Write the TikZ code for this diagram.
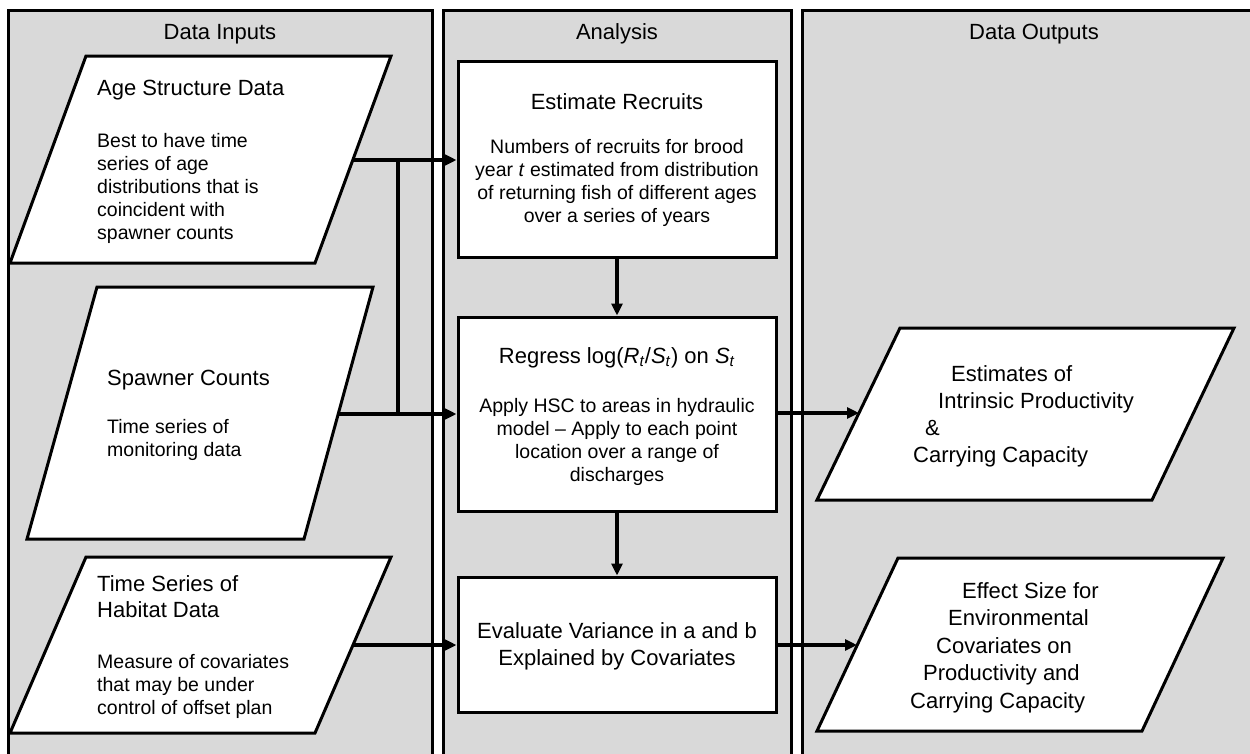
\documentclass[tikz,border=0pt]{standalone}
\usepackage{fontspec}
\setmainfont{Liberation Sans}
\usetikzlibrary{arrows.meta,calc}
\definecolor{panelgray}{HTML}{D9D9D9}
\tikzset{
  panel/.style={fill=panelgray,draw=black,line width=3pt},
  para/.style={fill=white,draw=black,line width=3pt,line join=miter},
  box/.style={fill=white,draw=black,line width=3pt,inner sep=0pt},
  conn/.style={draw=black,line width=3.4pt},
  arr/.style={conn,-{Triangle[length=12pt,width=11pt]}},
  hdr/.style={font=\fontsize{22}{26}\selectfont,inner sep=0pt,anchor=base},
  ttl/.style={font=\fontsize{22}{27}\selectfont,inner sep=0pt},
  bdy/.style={font=\fontsize{19.5}{23}\selectfont,inner sep=0pt}
}
\begin{document}
\begin{tikzpicture}[x=1pt,y=-1pt]
\useasboundingbox (0,0) rectangle (1250,753);
\clip (0,0) rectangle (1250,753);
% panels
\path[panel] (8,10) rectangle (432,770);
\path[panel] (443,10) rectangle (791,770);
\path[panel] (802,10) rectangle (1280,770);
\node[hdr] (h1) at (220,39) {Data Inputs};
\node[hdr] (h2) at (617,39) {Analysis};
\node[hdr] (h3) at (1034,39) {Data Outputs};
% input parallelograms
\path[para] (86,56) -- (391,56) -- (315,263) -- (10,263) -- cycle;
\path[para] (97,287) -- (373,287) -- (304,539) -- (27,539) -- cycle;
\path[para] (86,557) -- (391,557) -- (315,733) -- (10,733) -- cycle;
\node[ttl,anchor=base west] (t1) at (97,95) {Age Structure Data};
\node[bdy,anchor=base west,align=left] (b1) at (97,239) {Best to have time\\series of age\\distributions that is\\coincident with\\spawner counts};
\node[ttl,anchor=base west] (t2) at (107,385) {Spawner Counts};
\node[bdy,anchor=base west,align=left] (b2) at (107,456) {Time series of\\monitoring data};
\node[ttl,anchor=base west,align=left,font=\fontsize{22}{26}\selectfont] (t3) at (97,617) {Time Series of\\Habitat Data};
\node[bdy,anchor=base west,align=left] (b3) at (97,714) {Measure of covariates\\that may be under\\control of offset plan};
% analysis boxes
\node[box,minimum width=318,minimum height=196] (est) at (617,159) {};
\node[box,minimum width=318,minimum height=194] (reg) at (617,414) {};
\node[box,minimum width=318,minimum height=135] (ev) at (617,644.5) {};
\node[ttl,anchor=base] (t4) at (617,109) {Estimate Recruits};
\node[bdy,anchor=base,align=center] (b4) at (617,222) {Numbers of recruits for brood\\year \textit{t} estimated from distribution\\of returning fish of different ages\\over a series of years};
\node[ttl,anchor=base] (t5) at (617,363) {Regress log(\textit{R}\textsubscript{\textit{t}}/\textit{S}\textsubscript{\textit{t}}) on \textit{S}\textsubscript{\textit{t}}};
\node[bdy,anchor=base,align=center] (b5) at (617,481) {Apply HSC to areas in hydraulic\\model – Apply to each point\\location over a range of\\discharges};
\node[ttl,anchor=base,align=center] (t6) at (617,665) {Evaluate Variance in a and b\\Explained by Covariates};
% output parallelograms
\path[para] (900,328) -- (1234,328) -- (1152,500) -- (817,500) -- cycle;
\path[para] (898,558) -- (1223,558) -- (1142,731) -- (817,731) -- cycle;
\node[ttl,anchor=base west,align=left] (t7) at (913,462) {\hspace*{38pt}Estimates of\\\hspace*{25pt}Intrinsic Productivity\\\hspace*{12pt}\&\\Carrying Capacity};
\node[ttl,anchor=base west,align=left,font=\fontsize{22}{27.5}\selectfont] (t8) at (910,708) {\hspace*{52pt}Effect Size for\\\hspace*{38pt}Environmental\\\hspace*{26pt}Covariates on\\\hspace*{13pt}Productivity and\\Carrying Capacity};
% connection points
\coordinate (ageOut) at (353,160);
\coordinate (spOut) at (338,414);
\coordinate (habOut) at (353,645);
\coordinate (j1) at (398,160);
\coordinate (j2) at (398,414);
\coordinate (estimIn) at (859,413);
\coordinate (effIn) at (857,645);
% connectors
\draw[arr] (ageOut) -- (ageOut -| est.west);
\draw[conn] (j1) -- (j2);
\draw[arr] (spOut) -- (spOut -| reg.west);
\draw[arr] (habOut) -- (habOut -| ev.west);
\draw[arr] (est.south) -- (reg.north);
\draw[arr] (reg.south) -- (ev.north);
\draw[arr] (reg.east |- estimIn) -- (estimIn);
\draw[arr] (ev.east |- effIn) -- (effIn);
\end{tikzpicture}
\end{document}
